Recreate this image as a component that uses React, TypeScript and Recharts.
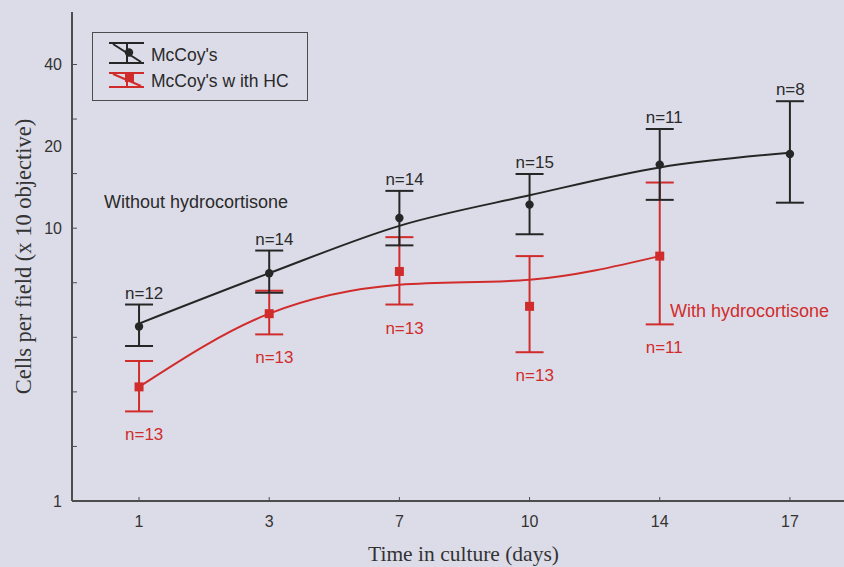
import React from 'react';
import { ComposedChart, Line, XAxis, YAxis, ErrorBar, LabelList, Legend, ReferenceDot } from 'recharts';

// time points (days) - shown as evenly spaced categories
const days = ['1', '3', '7', '10', '14', '17'];

// McCoy's (no hydrocortisone)
const mccoyMean = [4.36, 6.84, 10.9, 12.2, 17.1, 18.7];
const mccoyLow = [3.7, 5.8, 8.65, 9.5, 12.7, 12.4];
const mccoyHigh = [5.25, 8.28, 13.7, 15.8, 23.1, 29.2];
const mccoyFit = [4.47, 6.84, 10.2, 13.2, 16.7, 18.9];
const mccoyN = [12, 14, 14, 15, 11, 8];

// McCoy's with HC
const hcMean = [2.62, 4.86, 6.94, 5.17, 7.9];
const hcLow = [2.13, 4.08, 5.25, 3.51, 4.44];
const hcHigh = [3.26, 5.9, 9.27, 7.9, 14.7];
const hcFit = [2.62, 4.86, 6.2, 6.47, 7.9];
const hcN = [13, 13, 13, 13, 11];

// log axis ticks (every 0.2 decade) and the labels printed on them
const yTicks = [1, 1.585, 2.512, 3.981, 6.31, 10, 15.85, 20, 25.12, 39.81];
const yTickLabels = ['1', '', '', '', '', '10', '', '20', '', '40'];

const BLACK = '#262626';
const RED = '#d12c2c';
const AXIS = '#4d4d4d';
const BG = '#dcdce8';
const SANS = '"Liberation Sans", Arial, sans-serif';
const SERIF = '"Liberation Serif", "Times New Roman", serif';

const mccoyRows = days.map((d, i) => ({
  idx: i,
  day: d,
  mean: mccoyMean[i],
  err: [mccoyMean[i] - mccoyLow[i], mccoyHigh[i] - mccoyMean[i]],
  high: mccoyHigh[i],
  fit: mccoyFit[i],
  n: mccoyN[i],
}));

const hcRows = hcMean.map((m, i) => ({
  idx: i,
  day: days[i],
  mean: m,
  err: [m - hcLow[i], hcHigh[i] - m],
  low: hcLow[i],
  fit: hcFit[i],
  n: hcN[i],
}));

const xDomain: [number, number] = [-0.515, 5.5];
const xTicks = days.map((_, i) => i);

const YTick = (props: any) => {
  const { x, y, payload } = props;
  const i = yTicks.indexOf(payload.value);
  const label = yTickLabels[i];
  return (
    <g>
      {payload.value !== 20 && <line x1={x + 10} x2={x + 15} y1={y} y2={y} stroke={AXIS} strokeWidth={1} />}
      {label && (
        <text x={x} y={y} dy={5.5} textAnchor="end" fontSize={16} fontFamily={SANS} fill="#333">
          {label}
        </text>
      )}
    </g>
  );
};

const XTick = (props: any) => {
  const { x, y, payload } = props;
  return (
    <g>
      <line x1={x} x2={x} y1={y} y2={y - 4} stroke={AXIS} strokeWidth={1} />
      <text x={x} y={y + 26} textAnchor="middle" fontSize={16} fontFamily={SANS} fill="#333">
        {days[payload.value]}
      </text>
    </g>
  );
};

const TopTick = (props: any) => {
  const { x, y } = props;
  return <line x1={x} x2={x} y1={y} y2={y + 4} stroke={AXIS} strokeWidth={1} />;
};

const CircleDot = (p: any) =>
  p.cx == null ? <g key={`c${p.index}`} /> : <circle key={`c${p.index}`} cx={p.cx} cy={p.cy} r={4.2} fill={BLACK} />;

const SquareDot = (p: any) =>
  p.cx == null ? (
    <g key={`s${p.index}`} />
  ) : (
    <rect key={`s${p.index}`} x={p.cx - 4.5} y={p.cy - 4.5} width={9} height={9} fill={RED} />
  );

const TopN = (p: any) => (
  <text x={p.x - 14} y={p.y - 6} fontSize={17} fontFamily={SANS} fill="#2a2a2a">
    {`n=${p.value}`}
  </text>
);

const BottomN = (p: any) => (
  <text x={p.x - 14} y={p.y + 29} fontSize={17} fontFamily={SANS} fill={RED}>
    {`n=${p.value}`}
  </text>
);

const LegendBox = () => (
  <div style={{ width: 216, height: 69, border: `1.5px solid ${AXIS}`, boxSizing: 'border-box' }}>
    <svg width={213} height={66} style={{ display: 'block' }}>
      {/* McCoy's */}
      <g stroke={BLACK} strokeWidth={2}>
        <line x1={16} x2={51} y1={10} y2={10} />
        <line x1={16} x2={51} y1={30} y2={30} />
        <line x1={34} x2={34} y1={10} y2={30} />
        <line x1={20} x2={48} y1={11} y2={29} />
      </g>
      <circle cx={36} cy={19.5} r={4.2} fill={BLACK} />
      <text x={58} y={28} fontSize={17.5} fontFamily={SANS} fill="#2a2a2a">
        McCoy's
      </text>
      {/* McCoy's with HC */}
      <g stroke={RED} strokeWidth={2}>
        <line x1={16} x2={51} y1={40} y2={40} />
        <line x1={16} x2={51} y1={54} y2={54} />
        <line x1={34} x2={34} y1={40} y2={54} />
        <line x1={20} x2={48} y1={41} y2={53} />
      </g>
      <rect x={32} y={40} width={9} height={9} fill={RED} />
      <text x={58} y={54} fontSize={17.5} fontFamily={SANS} fill="#2a2a2a">
        McCoy's w ith HC
      </text>
    </svg>
  </div>
);

const App: React.FC = () => {
  return (
    <div style={{ position: 'fixed', left: 0, top: 0, width: 844, height: 567, overflow: 'hidden', background: BG }}>
      <ComposedChart width={870} height={567} margin={{ top: 12, right: 15, bottom: 0, left: 0 }}>
        <XAxis
          dataKey="idx"
          type="number"
          domain={xDomain}
          allowDataOverflow
          ticks={xTicks}
          interval={0}
          height={66}
          tickSize={0}
          tickMargin={0}
          tick={<XTick />}
          axisLine={{ stroke: AXIS, strokeWidth: 2 }}
          tickLine={false}
          label={{
            content: (lp: any) => {
              const vb = lp.viewBox;
              return (
                <text x={vb.x + vb.width / 2} y={vb.y + 60} textAnchor="middle" fontSize={21.5} fontFamily={SERIF} fill="#333">
                  Time in culture (days)
                </text>
              );
            },
          }}
        />
        <XAxis
          xAxisId="top"
          orientation="top"
          dataKey="idx"
          type="number"
          domain={xDomain}
          allowDataOverflow
          ticks={xTicks}
          height={0}
          tickSize={0}
          tickMargin={0}
          tick={<TopTick />}
          tickLine={false}
          axisLine={{ stroke: AXIS, strokeWidth: 2 }}
        />
        <YAxis
          type="number"
          scale="log"
          domain={[1, 62]}
          allowDataOverflow
          ticks={yTicks}
          interval={0}
          width={72}
          tickSize={0}
          tickMargin={10}
          tick={<YTick />}
          tickLine={false}
          axisLine={{ stroke: AXIS, strokeWidth: 2 }}
          label={{
            content: (lp: any) => {
              const vb = lp.viewBox;
              const cx = vb.x + 23;
              const cy = vb.y + vb.height / 2;
              return (
                <text
                  transform={`translate(${cx},${cy}) rotate(-90)`}
                  textAnchor="middle"
                  dominantBaseline="central"
                  fontSize={22.5}
                  fontFamily={SERIF}
                  fill="#333"
                >
                  Cells per field (x 10 objective)
                </text>
              );
            },
          }}
        />
        <Legend
          layout="horizontal"
          verticalAlign="middle"
          align="center"
          wrapperStyle={{ left: 92, top: 32, width: 216, height: 69 }}
          content={() => <LegendBox />}
        />

        {/* with hydrocortisone */}
        <Line data={hcRows} dataKey="fit" type="monotone" stroke={RED} strokeWidth={2} dot={false} activeDot={false} isAnimationActive={false} />
        <Line data={hcRows} dataKey="mean" stroke="none" dot={SquareDot} activeDot={false} isAnimationActive={false}>
          <ErrorBar dataKey="err" width={14} stroke={RED} strokeWidth={2} direction="y" />
        </Line>
        <Line data={hcRows} dataKey="low" stroke="none" dot={false} activeDot={false} isAnimationActive={false}>
          <LabelList dataKey="n" content={BottomN} />
        </Line>

        {/* without hydrocortisone */}
        <Line data={mccoyRows} dataKey="fit" type="monotone" stroke={BLACK} strokeWidth={2} dot={false} activeDot={false} isAnimationActive={false} />
        <Line data={mccoyRows} dataKey="mean" stroke="none" dot={CircleDot} activeDot={false} isAnimationActive={false}>
          <ErrorBar dataKey="err" width={14} stroke={BLACK} strokeWidth={2} direction="y" />
        </Line>
        <Line data={mccoyRows} dataKey="high" stroke="none" dot={false} activeDot={false} isAnimationActive={false}>
          <LabelList dataKey="n" content={TopN} />
        </Line>

        <ReferenceDot
          x={-0.27}
          y={12.5}
          r={0}
          shape={(p: any) => (
            <text x={p.cx} y={p.cy} dy={6} fontSize={18} fontFamily={SANS} fill="#2a2a2a">
              Without hydrocortisone
            </text>
          )}
        />
        <ReferenceDot
          x={4.078}
          y={4.97}
          r={0}
          shape={(p: any) => (
            <text x={p.cx} y={p.cy} dy={6} fontSize={18} fontFamily={SANS} fill={RED}>
              With hydrocortisone
            </text>
          )}
        />
      </ComposedChart>
    </div>
  );
};

export default App;
